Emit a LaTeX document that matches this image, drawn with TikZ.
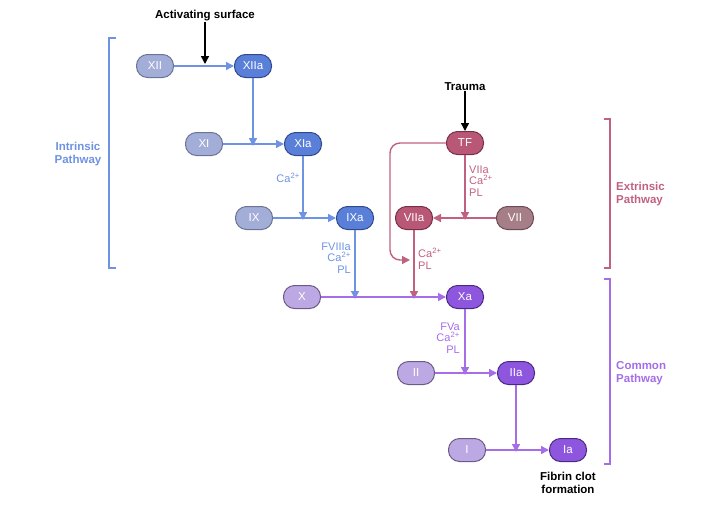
\documentclass[tikz,border=0pt]{standalone}
\usepackage{fontspec}
\setmainfont{Liberation Sans}
\usetikzlibrary{arrows.meta}
\definecolor{bline}{HTML}{6E93E3}
\definecolor{bfillA}{HTML}{A3AED8}
\definecolor{bdrawA}{HTML}{6A7494}
\definecolor{bfillB}{HTML}{5A7FD8}
\definecolor{bdrawB}{HTML}{2F4A8C}
\definecolor{pline}{HTML}{C0627F}
\definecolor{pfillB}{HTML}{B85876}
\definecolor{pdrawB}{HTML}{7A2E48}
\definecolor{pfillA}{HTML}{A67E88}
\definecolor{pdrawA}{HTML}{6E4A54}
\definecolor{vline}{HTML}{A56EE8}
\definecolor{vfillA}{HTML}{BCA8E3}
\definecolor{vdrawA}{HTML}{6E5A8A}
\definecolor{vfillB}{HTML}{8E56DE}
\definecolor{vdrawB}{HTML}{4A2A80}
\tikzset{
  factor/.style={rectangle, rounded corners=11pt, minimum width=37pt, minimum height=23pt,
    inner sep=0pt, line width=1pt, text=white, font=\fontsize{11.5}{13}\selectfont},
  binact/.style={factor, fill=bfillA, draw=bdrawA},
  bact/.style={factor, fill=bfillB, draw=bdrawB},
  pinact/.style={factor, fill=pfillA, draw=pdrawA},
  pact/.style={factor, fill=pfillB, draw=pdrawB},
  vinact/.style={factor, fill=vfillA, draw=vdrawA},
  vact/.style={factor, fill=vfillB, draw=vdrawB},
  arr/.style={line width=1.4pt, -{Triangle[length=8pt,width=8pt]}},
  cofac/.style={font=\fontsize{11}{11.7}\selectfont, inner sep=0pt},
  title/.style={font=\bfseries\fontsize{11.5}{13}\selectfont, inner sep=0pt, align=center},
  brk/.style={line width=1.5pt},
}
\begin{document}
\begin{tikzpicture}[x=1pt,y=-1pt]
\useasboundingbox (0,0) rectangle (720,504);
% nodes
\node[binact] (XII) at (155,66) {XII};
\node[bact] (XIIa) at (253,66) {XIIa};
\node[binact] (XI) at (204,144) {XI};
\node[bact] (XIa) at (303,144) {XIa};
\node[binact] (IX) at (254,218) {IX};
\node[bact] (IXa) at (355,218) {IXa};
\node[pact] (TF) at (465,143) {TF};
\node[pact] (VIIa) at (414,218) {VIIa};
\node[pinact] (VII) at (515,218) {VII};
\node[vinact] (X) at (302,297) {X};
\node[vact] (Xa) at (465,297) {Xa};
\node[vinact] (II) at (416,373) {II};
\node[vact] (IIa) at (516,373) {IIa};
\node[vinact] (I) at (467,450) {I};
\node[vact] (Ia) at (568,450) {Ia};
% titles
\node[title] (act) at (205,16) {Activating surface};
\node[title] (trauma) at (465,87) {Trauma};
\node[title] (fibrin) at (568,483) {Fibrin clot\\formation};
% intrinsic
\draw[arr, bline] (XII) -- (XIIa);
\coordinate (c1) at (205,64);
\draw[arr, black] (act) -- (c1);
\coordinate (c2) at (XIIa |- XI);
\draw[bline, arr] (XIIa) -- ([yshift=-2pt]c2);
\draw[arr, bline] (XI) -- (XIa);
\coordinate (c3) at (XIa |- IX);
\draw[bline, arr] (XIa) -- ([yshift=-2pt]c3);
\draw[arr, bline] (IX) -- (IXa);
\coordinate (c4) at (IXa |- X);
\draw[bline, arr] (IXa) -- ([yshift=-2pt]c4);
\node[cofac, text=bline, anchor=east] (caA) at (300,178) {Ca\textsuperscript{2+}};
\node[cofac, text=bline, anchor=east, align=right] (f8) at (351,258) {FVIIIa\\Ca\textsuperscript{2+}\\PL};
% extrinsic
\draw[arr, black] (trauma) -- (TF);
\draw[arr, pline] (VII) -- (VIIa);
\coordinate (c5) at (TF |- VII);
\draw[pline, arr] (TF) -- ([yshift=-2pt]c5);
\node[cofac, text=pline, anchor=west, align=left] (f7) at (469,181) {VIIa\\Ca\textsuperscript{2+}\\PL};
\coordinate (c6) at (VIIa |- X);
\draw[pline, arr] (VIIa) -- ([yshift=-2pt]c6);
\coordinate (c7) at (410,260);
\draw[pline, arr, rounded corners=10pt] (TF.west) -- (390,143) -- (390,260) -- (c7);
\node[cofac, text=pline, anchor=west, align=left] (f7b) at (418,259) {Ca\textsuperscript{2+}\\PL};
% common
\draw[arr, vline] (X) -- (Xa);
\coordinate (c8) at (Xa |- II);
\draw[vline, arr] (Xa) -- ([yshift=-2pt]c8);
\node[cofac, text=vline, anchor=east, align=right] (f5) at (460,338) {FVa\\Ca\textsuperscript{2+}\\PL};
\draw[arr, vline] (II) -- (IIa);
\coordinate (c9) at (IIa |- I);
\draw[vline, arr] (IIa) -- ([yshift=-2pt]c9);
\draw[arr, vline] (I) -- (Ia);
% brackets
\draw[brk, bline] (116,38) -- (109,38) -- (109,268) -- (116,268);
\node[title, text=bline] (intr) at (78,154) {Intrinsic\\Pathway};
\draw[brk, pline] (604,119) -- (610,119) -- (610,268) -- (604,268);
\node[title, text=pline, anchor=west, align=left] (extr) at (616,194) {Extrinsic\\Pathway};
\draw[brk, vline] (604,279) -- (610,279) -- (610,464) -- (604,464);
\node[title, text=vline, anchor=west, align=left] (comm) at (616,373) {Common\\Pathway};
\end{tikzpicture}
\end{document}
